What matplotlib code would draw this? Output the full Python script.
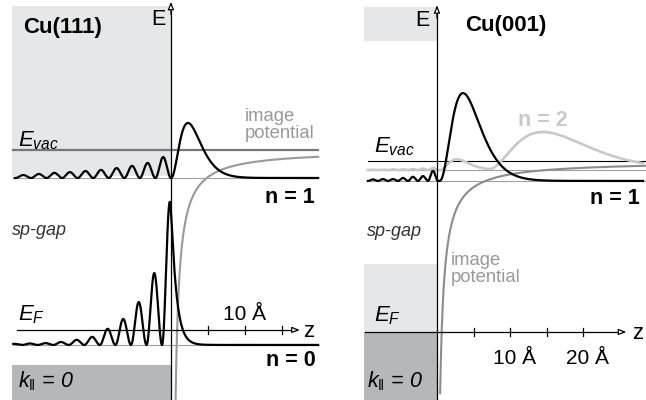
import numpy as np
import matplotlib
matplotlib.use("Agg")
import matplotlib.pyplot as plt
from matplotlib.patches import Rectangle

plt.rcParams['font.family'] = ['Liberation Sans', 'DejaVu Sans']
plt.rcParams['mathtext.fontset'] = 'custom'
plt.rcParams['mathtext.rm'] = 'Liberation Sans'
plt.rcParams['mathtext.it'] = 'Liberation Sans:italic'
plt.rcParams['mathtext.bf'] = 'Liberation Sans:bold'

# ---- Cu(111): energies in eV relative to E_F, z in Angstrom ----
cu111_e_vac = 4.90
cu111_n1_energy = 4.14
cu111_n0_energy = -0.41
cu111_gap = [-0.95, 4.20]          # projected bulk band gap at k_par = 0
cu111_layer = 2.1                  # layer spacing
# probability density maxima inside the crystal (deepest first)
cu111_n1_inner = [0.08, 0.11, 0.14, 0.16, 0.19, 0.22, 0.27, 0.33, 0.41, 0.57]
cu111_n1_peak = [2.3, 1.50]        # z, height of the vacuum maximum
cu111_n0_inner = [0.03, 0.04, 0.05, 0.08, 0.14, 0.22, 0.44, 0.71, 1.17, 1.96]
cu111_n0_peak = [-0.15, 3.90]      # surface maximum
cu111_n0_decay = 0.7

# ---- Cu(001) ----
cu001_e_vac = 4.57
cu001_n1_energy = 4.04
cu001_n2_energy = 4.33
cu001_upper_band = 7.78
cu001_lower_band = 1.83
cu001_layer = 1.37
cu001_n1_inner = [0.04, 0.05, 0.05, 0.08, 0.11, 0.13, 0.27]
cu001_n1_peak = [3.56, 2.35]
cu001_n2_inner = [0.01, 0.01, 0.02, 0.02, 0.03, 0.04, 0.06]
cu001_n2_peaks = [[2.7, 0.29], [14.5, 1.02]]
cu001_n2_node = 7.0

tick_z = [5, 10, 15, 20]
C_LIGHT = '#e6e7e8'
C_DARK = '#b6b7b9'
C_LEVEL = '#a0a0a0'
C_IMAGE = '#999999'
C_N2 = '#c9c9c9'


def lobes(z, peak_z, heights, width):
    out = np.zeros_like(z)
    for zp, h in zip(peak_z, heights):
        d = (z - zp) / width
        m = np.abs(d) < 0.5
        out[m] += h * np.cos(np.pi * d[m]) ** 2
    return out


def hump(z, z0, zp, h, p):
    r = np.clip((z - z0) / (zp - z0), 0, None)
    return h * (r * np.exp(1 - r)) ** p


def image_potential(z, e_vac, z_im):
    return e_vac - 3.6 / (z - z_im)


def arrow(ax, start, tip):
    ax.annotate('', xy=tip, xytext=start,
                arrowprops=dict(arrowstyle='-|>,head_length=0.45,head_width=0.18',
                                fc='white', ec='black', lw=0.9,
                                shrinkA=0, shrinkB=0), zorder=6)


def axes_frame(ax, xlim, ylim):
    ax.set_xlim(*xlim)
    ax.set_ylim(*ylim)
    ax.set_axis_off()


fig = plt.figure(figsize=(6.46, 4.0), dpi=100)
ax1 = fig.add_axes([0, 0, 0.5, 1])
ax2 = fig.add_axes([0.5, 0, 0.5, 1])
axes_frame(ax1, (-23.1, 20.55), (-1.91, 8.99))
axes_frame(ax2, (-15.6, 28.6), (-1.82, 8.88))

big = 15.5
state_fs = 15.5
tick_fs = 15
gray_fs = 13.3
gap_fs = 13
k_label = r'$k_{‖}$ = 0'

# ================= Cu(111) =================
ax = ax1
ax.add_patch(Rectangle((-21.5, cu111_gap[1]), 21.5, 8.83 - cu111_gap[1],
                       fc=C_LIGHT, ec='none', zorder=0))
ax.add_patch(Rectangle((-21.5, -1.91), 21.5, cu111_gap[0] + 1.91,
                       fc=C_DARK, ec='none', zorder=0))

zl, zr = -21.4, 19.9
ax.plot([zl, zr], [cu111_e_vac] * 2, color='#777777', lw=1.6, zorder=2)
ax.plot([zl, zr], [cu111_n1_energy] * 2, color=C_LEVEL, lw=0.8, zorder=1)
ax.plot([zl, zr], [cu111_n0_energy] * 2, color=C_LEVEL, lw=0.8, zorder=1)

z = np.linspace(0.62, zr, 1500)
ax.plot(z, image_potential(z, cu111_e_vac, 0.1), color=C_IMAGE, lw=1.5, zorder=3)

# n = 1 image-potential state
z = np.linspace(-21.1, zr, 4000)
n1_pos = [-cu111_layer / 2 - cu111_layer * k for k in range(len(cu111_n1_inner))][::-1]
dens = lobes(z, n1_pos, cu111_n1_inner, cu111_layer)
dens += hump(z, 0.0, cu111_n1_peak[0], cu111_n1_peak[1], 2.5)
ax.plot(z, cu111_n1_energy + dens, color='black', lw=1.6, zorder=4)

# n = 0 Shockley surface state
z = np.linspace(-21.3, zr, 4000)
zs, hs = cu111_n0_peak
n0_pos = [zs - cu111_layer * (k + 1) for k in range(len(cu111_n0_inner))][::-1]
dens = lobes(z, n0_pos, cu111_n0_inner, cu111_layer)
left = (z < zs) & (z > zs - cu111_layer / 2)
dens[left] += hs * np.cos(np.pi * (z[left] - zs) / cu111_layer) ** 2
right = z >= zs
d = z[right] - zs
dens[right] += hs * np.exp(-(np.sqrt(d ** 2 + 0.04) - 0.2) / cu111_n0_decay)
ax.plot(z, cu111_n0_energy + dens, color='black', lw=1.6, zorder=4)

# axes
ax.plot([0, 0], [-1.91, 8.7], color='black', lw=0.9, zorder=5)
arrow(ax, (0, 8.6), (0, 8.94))
ax.plot([-20.8, 17.0], [0, 0], color='black', lw=0.9, zorder=5)
arrow(ax, (16.8, 0), (17.4, 0))
for t in tick_z[:3]:
    ax.plot([t, t], [-0.11, 0.11], color='black', lw=0.9, zorder=5)

ax.text(-20.0, 8.23, 'Cu(111)', fontsize=16, fontweight='bold', va='center')
ax.text(-0.8, 8.45, 'E', fontsize=big, ha='right', va='center')
ax.text(-20.7, 5.0, r'$E_{vac}$', fontsize=16, va='baseline')
ax.text(10.0, 6.05, 'image\npotential', fontsize=gray_fs, color=C_IMAGE,
        va='top', linespacing=1.0)
ax.text(19.5, 3.6, 'n = 1', fontsize=state_fs, fontweight='bold', ha='right', va='center')
ax.text(-21.5, 2.7, 'sp-gap', fontsize=gap_fs, style='italic', color='#333333', va='center')
ax.text(-20.7, 0.25, r'$E_F$', fontsize=16, va='baseline')
ax.text(9.9, 0.42, '10 Å', fontsize=tick_fs, ha='center', va='center')
ax.text(17.8, -0.05, 'z', fontsize=16, va='center')
ax.text(19.6, -0.82, 'n = 0', fontsize=state_fs, fontweight='bold', ha='right', va='center')
ax.text(-20.7, -1.39, k_label, fontsize=big, style='italic', va='center')

# ================= Cu(001) =================
ax = ax2
ax.add_patch(Rectangle((-10.0, cu001_upper_band), 10.0, 8.7 - cu001_upper_band,
                       fc=C_LIGHT, ec='none', zorder=0))
ax.add_patch(Rectangle((-10.0, 0), 10.0, cu001_lower_band,
                       fc=C_LIGHT, ec='none', zorder=0))
ax.add_patch(Rectangle((-10.0, -1.82), 10.0, 1.82,
                       fc=C_DARK, ec='none', zorder=0))

zl, zr = -9.45, 28.6
ax.plot([zl, zr], [cu001_e_vac] * 2, color='black', lw=0.8, zorder=2)
ax.plot([zl, zr], [cu001_n2_energy] * 2, color=C_LEVEL, lw=0.8, zorder=1)
ax.plot([zl, zr], [cu001_n1_energy] * 2, color=C_LEVEL, lw=0.8, zorder=1)

z = np.linspace(0.43, zr, 1500)
ax.plot(z, image_potential(z, cu001_e_vac, -0.15), color='#8c8c8c', lw=1.5, zorder=3)

z = np.linspace(-9.45, 28.2, 4000)
pos = [-0.55 - cu001_layer * k for k in range(len(cu001_n1_inner))][::-1]

dens = lobes(z, pos, cu001_n2_inner, cu001_layer)
dens += hump(z, 0.3, cu001_n2_peaks[0][0], cu001_n2_peaks[0][1], 3.0)
dens += hump(z, cu001_n2_node, cu001_n2_peaks[1][0], cu001_n2_peaks[1][1], 2.2)
ax.plot(z, cu001_n2_energy + dens, color=C_N2, lw=1.9, zorder=3)

dens = lobes(z, pos, cu001_n1_inner, cu001_layer)
dens += hump(z, 0.3, cu001_n1_peak[0], cu001_n1_peak[1], 2.7)
ax.plot(z, cu001_n1_energy + dens, color='black', lw=1.6, zorder=4)

ax.plot([0, 0], [-1.82, 8.5], color='black', lw=0.9, zorder=5)
arrow(ax, (0, 8.4), (0, 8.74))
ax.plot([-9.9, 25.3], [0, 0], color='black', lw=0.9, zorder=5)
arrow(ax, (25.2, 0), (25.9, 0))
for t in tick_z:
    ax.plot([t, t], [-0.11, 0.11], color='black', lw=0.9, zorder=5)

ax.text(-0.96, 8.32, 'E', fontsize=big, ha='right', va='center')
ax.text(3.84, 8.21, 'Cu(001)', fontsize=16, fontweight='bold', va='center')
ax.text(-8.6, 4.79, r'$E_{vac}$', fontsize=16, va='baseline')
ax.text(11.1, 5.67, 'n = 2', fontsize=state_fs, fontweight='bold', color=C_N2, va='center')
ax.text(27.8, 3.58, 'n = 1', fontsize=state_fs, fontweight='bold', ha='right', va='center')
ax.text(-9.6, 2.7, 'sp-gap', fontsize=gap_fs, style='italic', color='#333333', va='center')
ax.text(1.9, 2.13, 'image\npotential', fontsize=gray_fs, color=C_IMAGE,
        va='top', linespacing=1.0)
ax.text(-8.6, 0.29, r'$E_F$', fontsize=16, va='baseline')
for t in tick_z[1::2]:
    ax.text(t + 0.6, -0.7, f'{t} Å', fontsize=tick_fs, ha='center', va='center')
ax.text(26.7, -0.03, 'z', fontsize=16, va='center')
ax.text(-9.6, -1.31, k_label, fontsize=big, style='italic', va='center')

fig.savefig('out.png', dpi=100)
